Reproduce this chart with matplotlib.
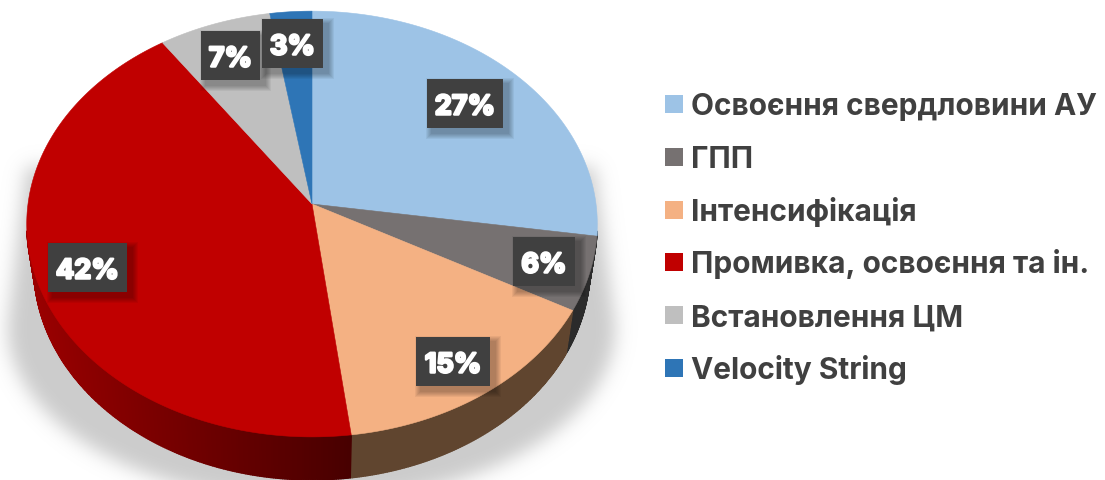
import numpy as np
import matplotlib
matplotlib.use("Agg")
import matplotlib.pyplot as plt
import matplotlib.patheffects as pe
from matplotlib.collections import PolyCollection
from matplotlib.colors import to_rgb
from matplotlib.patches import Polygon, Rectangle
from matplotlib.path import Path

categories = ["Освоєння свердловини АУ", "ГПП", "Інтенсифікація",
              "Промивка, освоєння та ін.", "Встановлення ЦМ", "Velocity String"]
values = [27.4, 5.6, 15, 42.4, 7, 2.6]
value_labels = ["27%", "6%", "15%", "42%", "7%", "3%"]
colors = ["#9DC3E6", "#767171", "#F4B183", "#C00000", "#BFBFBF", "#2E75B6"]
side_left = ["#5E7589", "#333333", "#60452F", "#9A0000", "#737373", "#1C4670"]
side_right = ["#5E7589", "#2B2B2B", "#60452F", "#480000", "#737373", "#1C4670"]

# label boxes in pixels: x0, x1, y0, y1
label_boxes = [(427, 503, 80, 129), (513, 575, 238, 287), (416, 490, 338, 387),
               (48, 127, 244, 293), (201, 260, 32, 81), (262, 323, 20, 69)]

TEXT_DARK = "#404040"
CX, CY = 312, 205
RX, RY = 284, 211
PERSP = 0.094
DEPTH = 43
W, H = 1105, 481


def project(frac):
    # pie fraction (clockwise from top) -> pixels, circle tilted with perspective
    t = 2 * np.pi * np.asarray(frac)
    px, py = np.sin(t), np.cos(t)
    w = 1 + PERSP * py
    return CX + RX * px / w, CY - RY * py / w


def lower(x, y):
    return CX + (x - CX) * 0.975, y + DEPTH


def draw_shadow(ax):
    # blurred grey shape under the pie
    t = np.linspace(0, np.pi, 120)
    arc_x = 312 + 304 * np.cos(t)
    arc_y = 328 + 175 * np.sin(t)
    poly = np.column_stack([np.r_[27, 595, arc_x], np.r_[168, 168, arc_y]])
    yy, xx = np.mgrid[0:H + 60, -60:W + 60]
    mask = Path(poly).contains_points(np.column_stack([xx.ravel(), yy.ravel()])).reshape(xx.shape).astype(float)
    kx = np.exp(-0.5 * (np.arange(-30, 31) / 9.0) ** 2)
    kx /= kx.sum()
    mask = np.apply_along_axis(lambda r: np.convolve(r, kx, mode="same"), 1, mask)
    mask = np.apply_along_axis(lambda r: np.convolve(r, kx, mode="same"), 0, mask)
    rgba = np.zeros(mask.shape + (4,))
    rgba[..., :3] = 0.75
    rgba[..., 3] = mask * 0.8
    ax.imshow(rgba, extent=[-60.5, W + 59.5, H + 59.5, -0.5], zorder=1, interpolation="bilinear")


def draw_pie(ax):
    edges = np.cumsum([0] + values) / sum(values)
    for i, col in enumerate(colors):
        f = np.linspace(edges[i], edges[i + 1], int(values[i] * 8) + 10)
        x, y = project(f)
        lx, ly = lower(x, y)
        quads = []
        side_cols = []
        c0, c1 = np.array(to_rgb(side_left[i])), np.array(to_rgb(side_right[i]))
        for j in range(len(f) - 1):
            # back of the pie is hidden, only the front rim gets a side
            if y[j] < 232 or y[j + 1] < 232:
                continue
            quads.append([(x[j], y[j]), (x[j + 1], y[j + 1]), (lx[j + 1], ly[j + 1]), (lx[j], ly[j])])
            m = np.clip((x[j] - 30) / 320, 0, 1)
            side_cols.append(c0 + (c1 - c0) * m)
        ax.add_collection(PolyCollection(quads, facecolors=side_cols, edgecolors=side_cols, linewidths=1.0, zorder=2))
    for i, col in enumerate(colors):
        f = np.linspace(edges[i], edges[i + 1], int(values[i] * 8) + 10)
        x, y = project(f)
        pts = np.column_stack([np.r_[CX, x], np.r_[CY, y]])
        ax.add_patch(Polygon(pts, closed=True, facecolor=col, edgecolor=col, linewidth=0.4, zorder=3))


def draw_labels(ax):
    for box, txt in zip(label_boxes, value_labels):
        x0, x1, y0, y1 = box
        for k in range(6):
            grow = 6 - k
            ax.add_patch(Rectangle((x0 + 5 - grow, y0 + 5 - grow), x1 - x0 + 2 * grow, y1 - y0 + 2 * grow,
                                   facecolor="black", edgecolor="none", alpha=0.05, zorder=4))
        ax.add_patch(Rectangle((x0, y0), x1 - x0, y1 - y0, facecolor="#404040", edgecolor="none", zorder=5))
        ax.text((x0 + x1) / 2, (y0 + y1) / 2 + 1, txt, color="white", fontsize=19.5, fontweight="bold",
                family="Inter", ha="center", va="center_baseline", zorder=6,
                path_effects=[pe.withStroke(linewidth=1.8, foreground="white")])


def draw_legend(ax):
    for i, cat in enumerate(categories):
        yc = 105 + 52.8 * i
        ax.add_patch(Rectangle((665, yc - 9), 18, 18, facecolor=colors[i], edgecolor="none", zorder=3))
        ax.text(691, yc + 10, cat, color=TEXT_DARK, fontsize=21.5, fontweight="bold",
                family="Inter", ha="left", va="baseline", zorder=3)


fig = plt.figure(figsize=(W / 100, H / 100), dpi=100)
ax = fig.add_axes([0, 0, 1, 1])
draw_shadow(ax)
draw_pie(ax)
draw_labels(ax)
draw_legend(ax)
ax.set_xlim(0, W)
ax.set_ylim(H, 0)
ax.axis("off")
fig.savefig("out.png", dpi=100, facecolor="white")
